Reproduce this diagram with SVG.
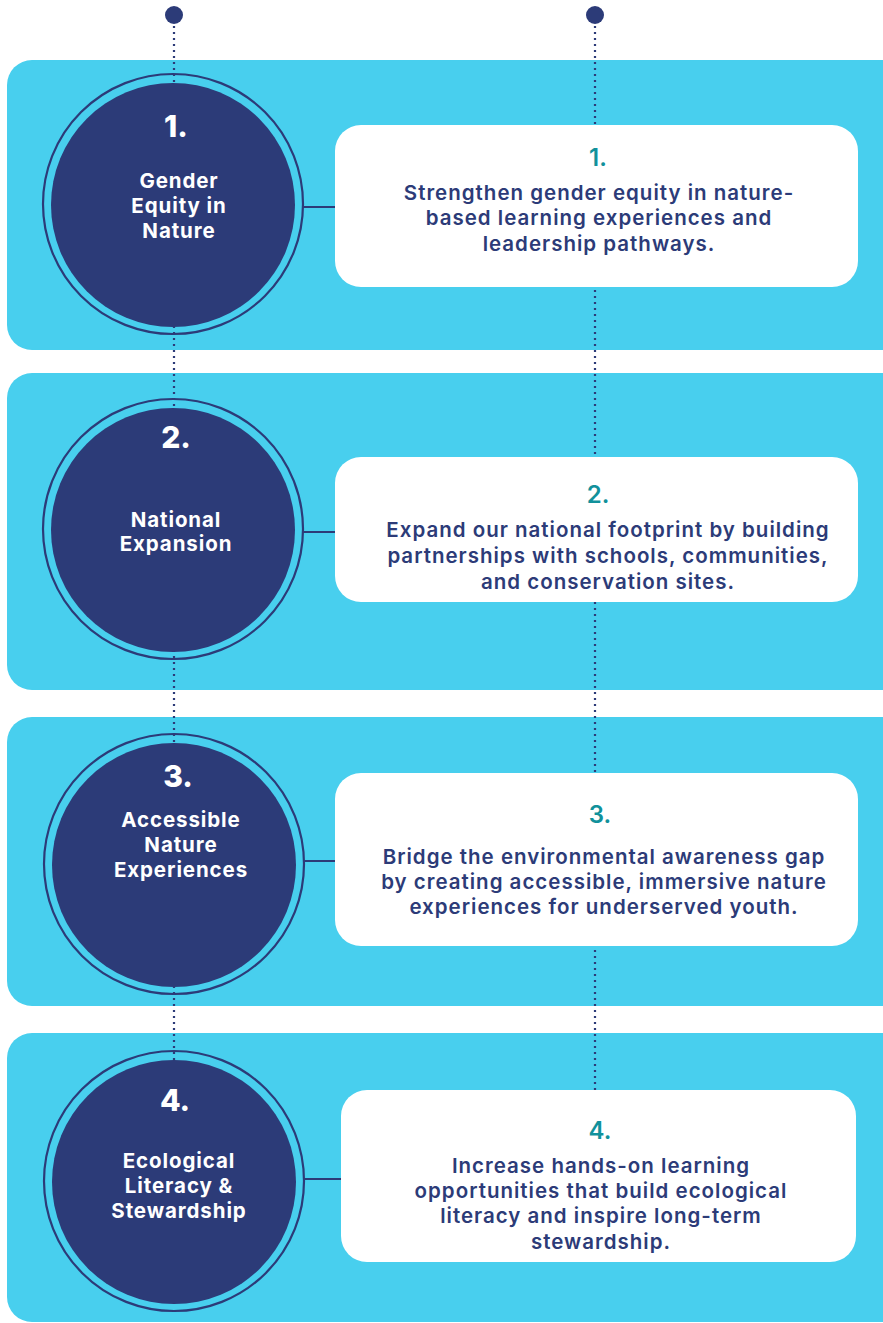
<svg xmlns="http://www.w3.org/2000/svg" width="883" height="1323" viewBox="0 0 883 1323">
<style>
.band{fill:#48CFEE}
.ring{fill:none;stroke:#2C3B78;stroke-width:2.2}
.disk{fill:#2C3B78}
.box{fill:#FFFFFF}
.dots{stroke:#2C3B78;stroke-width:2.2;stroke-dasharray:2 4;fill:none}
.link{stroke:#2C3B78;stroke-width:2.2;fill:none}
.cnum{font-family:Inter,"Liberation Sans",sans-serif;font-weight:800;font-size:30px;fill:#FFFFFF;text-anchor:middle}
.clab{font-family:Inter,"Liberation Sans",sans-serif;font-weight:700;font-size:20.5px;letter-spacing:0.9px;fill:#FFFFFF;text-anchor:middle}
.bnum{font-family:Inter,"Liberation Sans",sans-serif;font-weight:600;font-size:24px;fill:#11919B;text-anchor:middle}
.btxt{font-family:Inter,"Liberation Sans",sans-serif;font-weight:600;font-size:20.5px;letter-spacing:1px;fill:#2C3B78;text-anchor:middle}
</style>
<rect x="0" y="0" width="883" height="1323" fill="#FFFFFF"/>
<g id="bands">
<rect class="band" x="7" y="60" width="900" height="290" rx="25"/>
<rect class="band" x="7" y="373" width="900" height="317" rx="25"/>
<rect class="band" x="7" y="717" width="900" height="289" rx="25"/>
<rect class="band" x="7" y="1033" width="900" height="289" rx="25"/>
</g>
<g id="connectors">
<line class="dots" x1="174" y1="20" x2="174" y2="1181"/>
<line class="dots" x1="595" y1="20" x2="595" y2="1090"/>
<line class="link" x1="303" y1="207" x2="336" y2="207"/>
<line class="link" x1="303" y1="532" x2="336" y2="532"/>
<line class="link" x1="303" y1="861" x2="336" y2="861"/>
<line class="link" x1="303" y1="1179" x2="342" y2="1179"/>
</g>
<g id="start-dots">
<circle cx="174" cy="15" r="9" fill="#2C3B78"/>
<circle cx="595" cy="15" r="9" fill="#2C3B78"/>
</g>
<g id="circle-1">
<circle class="ring" cx="173" cy="204" r="130"/>
<circle class="disk" cx="173" cy="205" r="122"/>
<text class="cnum" x="176" y="137">1.</text>
<text class="clab" x="179" y="188">Gender</text>
<text class="clab" x="179" y="213">Equity in</text>
<text class="clab" x="179" y="238">Nature</text>
</g>
<g id="circle-2">
<circle class="ring" cx="173" cy="529" r="130"/>
<circle class="disk" cx="173" cy="530" r="122"/>
<text class="cnum" x="176" y="448">2.</text>
<text class="clab" x="176" y="527">National</text>
<text class="clab" x="176" y="551">Expansion</text>
</g>
<g id="circle-3">
<circle class="ring" cx="174" cy="864" r="130"/>
<circle class="disk" cx="174" cy="865" r="122"/>
<text class="cnum" x="178" y="787">3.</text>
<text class="clab" x="181" y="827">Accessible</text>
<text class="clab" x="181" y="852">Nature</text>
<text class="clab" x="181" y="877">Experiences</text>
</g>
<g id="circle-4">
<circle class="ring" cx="174" cy="1181" r="130"/>
<circle class="disk" cx="174" cy="1182" r="122"/>
<text class="cnum" x="175" y="1111">4.</text>
<text class="clab" x="179" y="1168">Ecological</text>
<text class="clab" x="179" y="1193">Literacy &amp;</text>
<text class="clab" x="179" y="1218">Stewardship</text>
</g>
<g id="box-1">
<rect class="box" x="335" y="125" width="523" height="162" rx="26"/>
<text class="bnum" x="598" y="166">1.</text>
<text class="btxt" x="599" y="200">Strengthen gender equity in nature-</text>
<text class="btxt" x="599" y="225">based learning experiences and</text>
<text class="btxt" x="599" y="251">leadership pathways.</text>
</g>
<g id="box-2">
<rect class="box" x="335" y="457" width="523" height="145" rx="26"/>
<text class="bnum" x="598" y="503">2.</text>
<text class="btxt" x="608" y="537">Expand our national footprint by building</text>
<text class="btxt" x="608" y="563">partnerships with schools, communities,</text>
<text class="btxt" x="608" y="589">and conservation sites.</text>
</g>
<g id="box-3">
<rect class="box" x="335" y="773" width="523" height="173" rx="26"/>
<text class="bnum" x="600" y="823">3.</text>
<text class="btxt" x="604" y="864">Bridge the environmental awareness gap</text>
<text class="btxt" x="604" y="889">by creating accessible, immersive nature</text>
<text class="btxt" x="604" y="914">experiences for underserved youth.</text>
</g>
<g id="box-4">
<rect class="box" x="341" y="1090" width="515" height="172" rx="26"/>
<text class="bnum" x="600" y="1139">4.</text>
<text class="btxt" x="601" y="1173">Increase hands-on learning</text>
<text class="btxt" x="601" y="1198">opportunities that build ecological</text>
<text class="btxt" x="601" y="1223">literacy and inspire long-term</text>
<text class="btxt" x="601" y="1249">stewardship.</text>
</g>
</svg>
